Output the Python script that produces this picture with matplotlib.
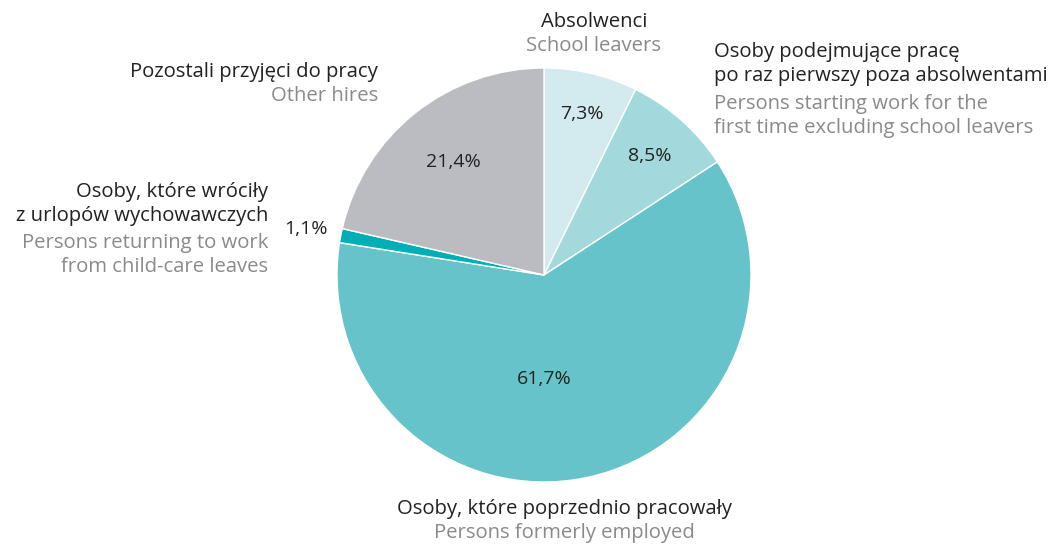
import matplotlib
matplotlib.use("Agg")
import matplotlib.pyplot as plt
import numpy as np

values = [7.3, 8.5, 61.7, 1.1, 21.4]
pct_labels = ["7,3%", "8,5%", "61,7%", "1,1%", "21,4%"]
labels_pl = ["Absolwenci",
             "Osoby podejmujące pracę\npo raz pierwszy poza absolwentami",
             "Osoby, które poprzednio pracowały",
             "Osoby, które wróciły\nz urlopów wychowawczych",
             "Pozostali przyjęci do pracy"]
labels_en = ["School leavers",
             "Persons starting work for the\nfirst time excluding school leavers",
             "Persons formerly employed",
             "Persons returning to work\nfrom child-care leaves",
             "Other hires"]
colors = ["#d3ebee", "#a3d8dc", "#66c3c9", "#00aeb8", "#bbbcc1"]

W, H = 1059, 544
fig = plt.figure(figsize=(W / 100, H / 100), dpi=100)
ax = fig.add_axes([0, 0, 1, 1])

FONT = "Open Sans"
cx, cy, R = 544, H - 275, 207
wedges, _ = ax.pie(values, colors=colors, startangle=90, counterclock=False,
                   center=(cx, cy), radius=R, frame=True,
                   wedgeprops=dict(edgecolor="white", linewidth=1))
ax.set_xlim(0, W)
ax.set_ylim(0, H)
ax.set_aspect("equal")
ax.axis("off")

# percentage labels
rfac = [0.80, 0.77, None, 1.17, 0.70]
for w, lab, rf in zip(wedges, pct_labels, rfac):
    if rf is None:
        x, y = cx, cy - 0.5 * R
    else:
        a = np.deg2rad((w.theta1 + w.theta2) / 2)
        x, y = cx + rf * R * np.cos(a), cy + rf * R * np.sin(a)
    ax.text(x, y, lab, ha="center", va="center", fontsize=14,
            color="#222222", family=FONT)

dark, grey = "#222222", "#8a8a8a"
fs = 14.6
def pair(x, y_pl, y_en, pl, en, ha):
    ax.text(x, H - y_pl, pl, ha=ha, va="center", fontsize=fs, color=dark,
            family=FONT, linespacing=1.22)
    ax.text(x, H - y_en, en, ha=ha, va="center", fontsize=fs, color=grey,
            family=FONT, linespacing=1.22)

pair(594, 22, 46, labels_pl[0], labels_en[0], "center")
pair(714, 64, 116, labels_pl[1], labels_en[1], "left")
pair(564, 509, 533, labels_pl[2], labels_en[2], "center")
pair(268, 204, 255, labels_pl[3], labels_en[3], "right")
pair(378, 72, 96, labels_pl[4], labels_en[4], "right")

fig.savefig("out.png", dpi=100)
